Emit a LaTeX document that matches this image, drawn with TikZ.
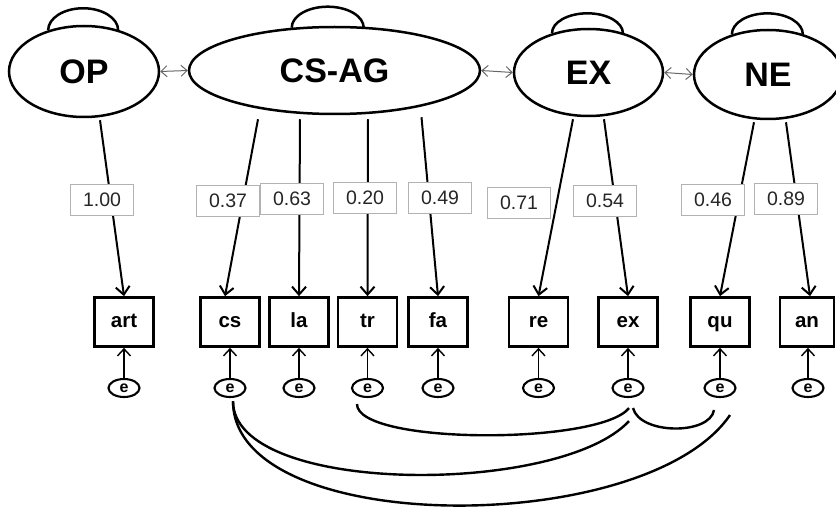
\documentclass[tikz,border=0pt]{standalone}
\usepackage{fontspec}
\setmainfont{Liberation Sans}
\usetikzlibrary{arrows.meta,shapes.geometric}
\begin{document}
\begin{tikzpicture}[x=1pt,y=1pt,
  latent/.style={ellipse,draw,line width=2.5pt,inner sep=0pt,font=\fontsize{34}{36}\selectfont\bfseries},
  obs/.style={rectangle,draw,line width=2.7pt,minimum width=59pt,minimum height=49pt,inner sep=0pt,text height=14pt,text depth=4pt,font=\fontsize{20.5}{22}\selectfont\bfseries},
  err/.style={ellipse,draw,line width=2.1pt,minimum width=31pt,minimum height=18pt,inner sep=0pt,font=\fontsize{16}{16}\selectfont\bfseries},
  lab/.style={rectangle,draw=black!30,fill=white,line width=0.8pt,minimum width=63pt,minimum height=31pt,inner sep=0pt,text=black!85,font=\fontsize{19.5}{21}\selectfont},
  load/.style={line width=2pt,-{Straight Barb[length=8pt,width=14pt,line width=2pt]}},
  errarr/.style={line width=1.4pt,-{Straight Barb[length=7pt,width=13pt,line width=1.4pt]}},
  cov/.style={line width=1pt,black!60,{Straight Barb[length=6pt,width=11pt]}-{Straight Barb[length=6pt,width=11pt]}},
  selfloop/.style={line width=2.5pt},
  corr/.style={line width=2.4pt}]
\useasboundingbox (0,0) rectangle (836,-508);

% latent variables
\node[latent,minimum width=150pt,minimum height=91pt] (OP) at (84,-71.5) {OP};
\node[latent,minimum width=291pt,minimum height=87pt] (CSAG) at (334.5,-70.5) {CS-AG};
\node[latent,minimum width=149pt,minimum height=87pt] (EX) at (588.5,-72.5) {EX};
\node[latent,minimum width=148pt,minimum height=89pt] (NE) at (768,-74.5) {NE};

% self loops
\draw[selfloop] (OP.131) arc[start angle=180,end angle=0,x radius=35,y radius=22];
\draw[selfloop] (CSAG.135) arc[start angle=180,end angle=0,x radius=36,y radius=21];
\draw[selfloop] (EX.133) arc[start angle=180,end angle=0,x radius=35.5,y radius=20];
\draw[selfloop] (NE.132) arc[start angle=180,end angle=0,x radius=35.5,y radius=21];

% covariances between latents
\draw[cov] (OP.east) -- (CSAG.west);
\draw[cov] (CSAG.east) -- (EX.west);
\draw[cov] (EX.east) -- (NE.west);

% observed variables
\node[obs] (art) at (124,-322) {art};
\node[obs] (cs) at (230,-322) {cs};
\node[obs] (la) at (299,-322) {la};
\node[obs] (tr) at (367.5,-322) {tr};
\node[obs] (fa) at (438,-322) {fa};
\node[obs] (re) at (538.5,-322) {re};
\node[obs] (ex) at (628,-322) {ex};
\node[obs] (qu) at (720,-322) {qu};
\node[obs,minimum width=54pt] (an) at (807,-322) {an};

% error terms
\node[err] (eart) at (124,-388) {e};
\node[err] (ecs) at (230,-388) {e};
\node[err] (ela) at (299,-388) {e};
\node[err] (etr) at (367.5,-388) {e};
\node[err] (efa) at (438,-388) {e};
\node[err] (ere) at (538.5,-388) {e};
\node[err] (eex) at (628,-388) {e};
\node[err] (equ) at (720,-388) {e};
\node[err] (ean) at (808,-388) {e};

\foreach \o in {art,cs,la,tr,fa,re,ex,qu}
  \draw[errarr] (e\o.north) -- (\o.south);
\draw[errarr] (ean.north) -- ([xshift=1pt]an.south);

% loadings
\draw[load] ([xshift=16pt,yshift=-2pt]OP.south) -- (art.north);
\draw[load] ([xshift=-76.5pt,yshift=-4pt]CSAG.south) -- ([xshift=-5pt]cs.north);
\draw[load] ([xshift=-34.5pt,yshift=-4pt]CSAG.south) -- (la.north);
\draw[load] ([xshift=33.5pt,yshift=-4pt]CSAG.south) -- (tr.north);
\draw[load] ([xshift=87pt,yshift=-2pt]CSAG.south) -- (fa.north);
\draw[load] ([xshift=-15.5pt,yshift=-2pt]EX.south) -- (re.north);
\draw[load] ([xshift=15.5pt,yshift=-2pt]EX.south) -- (ex.north);
\draw[load] ([xshift=-14pt,yshift=-2pt]NE.south) -- (qu.north);
\draw[load] ([xshift=18pt,yshift=-2pt]NE.south) -- ([xshift=3pt]an.north);

% loading labels
\node[lab] (l1) at (102,-200) {1.00};
\node[lab] (l2) at (228,-201) {0.37};
\node[lab] (l3) at (292,-199) {0.63};
\node[lab] (l4) at (365,-198) {0.20};
\node[lab] (l5) at (440,-198) {0.49};
\node[lab] (l6) at (519,-203) {0.71};
\node[lab] (l7) at (605,-201) {0.54};
\node[lab] (l8) at (713,-200) {0.46};
\node[lab] (l9) at (786,-199) {0.89};

% error correlations
\draw[corr] ([xshift=-10.5pt,yshift=-6pt]etr.south) .. controls (357,-445) and (600,-445) .. ([xshift=1pt,yshift=-10pt]eex.south);
\draw[corr] ([xshift=5pt,yshift=-10pt]eex.south) .. controls (640,-435) and (710,-435) .. ([xshift=-6pt,yshift=-12pt]equ.south);
\draw[corr] ([xshift=3pt,yshift=-3pt]ecs.south) .. controls (233,-496) and (560,-496) .. ([xshift=1pt,yshift=-23pt]eex.south);
\draw[corr] ([xshift=3pt,yshift=-3pt]ecs.south) .. controls (233,-538) and (646,-538) .. ([xshift=10pt,yshift=-17pt]equ.south);
\end{tikzpicture}
\end{document}
